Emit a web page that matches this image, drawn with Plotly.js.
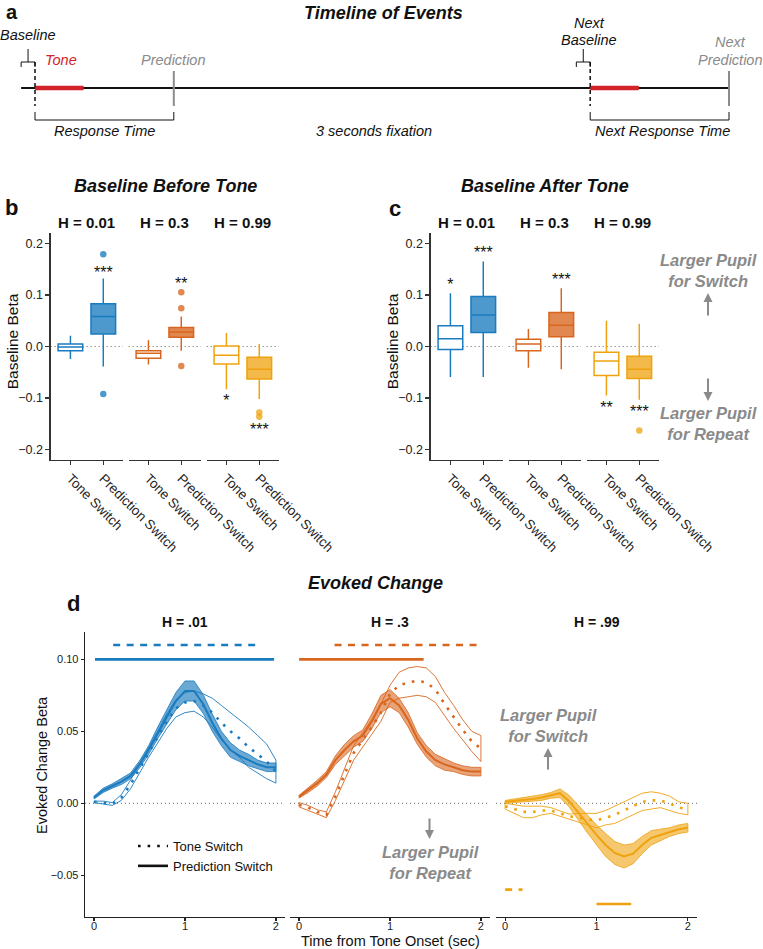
<!DOCTYPE html>
<html><head><meta charset="utf-8">
<script src="https://cdn.plot.ly/plotly-3.0.1.min.js"></script>
<style>html,body{margin:0;padding:0;background:#fff}</style>
</head><body><div id="chart" style="width:763px;height:949px"></div>
<script>
// ================= DATA =================
// Panel a : schematic timeline (seconds-like units)
const baselineWindow = [-0.1, 0];
const toneWindow = [0, 0.35];
const predictionTime = 1;
const nextBaselineWindow = [3.9, 4];
const nextToneWindow = [4, 4.35];
const nextPredictionTime = 5;

// Panels b / c : box plots
const facetLabels = ['H = 0.01', 'H = 0.3', 'H = 0.99'];
const boxCategories = ['Tone Switch', 'Prediction Switch'];
// order: [H.01 Tone, H.01 Pred, H.3 Tone, H.3 Pred, H.99 Tone, H.99 Pred]
const beforeLow  = [-0.024, -0.039, -0.035, -0.008, -0.083, -0.102];
const beforeQ1   = [-0.008,  0.024, -0.023,  0.018, -0.034, -0.063];
const beforeMed  = [-0.001,  0.058, -0.013,  0.028, -0.017, -0.044];
const beforeQ3   = [ 0.005,  0.083, -0.008,  0.037,  0.001, -0.021];
const beforeHigh = [ 0.021,  0.132,  0.012,  0.058,  0.026,  0.005];
const beforeOutliers = [[], [0.179, -0.092], [], [0.105, 0.074, -0.038], [], [-0.128, -0.136]];
const beforeStars = ['', '***', '', '**', '*', '***'];
const beforeStarY = [null, 0.140, null, 0.119, -0.108, -0.164];

const afterLow  = [-0.059, -0.059, -0.041, -0.044, -0.095, -0.103];
const afterQ1   = [-0.006,  0.027, -0.008,  0.019, -0.056, -0.062];
const afterMed  = [ 0.015,  0.061,  0.005,  0.041, -0.028, -0.044];
const afterQ3   = [ 0.040,  0.097,  0.014,  0.066, -0.011, -0.019];
const afterHigh = [ 0.103,  0.165,  0.034,  0.113,  0.050,  0.044];
const afterOutliers = [[], [], [], [], [], [-0.163]];
const afterStars = ['*', '***', '', '***', '**', '***'];
const afterStarY = [0.117, 0.179, null, 0.127, -0.122, -0.128];

// Panel d : evoked change time courses
const facetLabelsD = ['H = .01', 'H = .3', 'H = .99'];
const time = [0,0.1,0.2,0.3,0.4,0.5,0.6,0.7,0.8,0.9,1.0,1.1,1.2,1.3,1.4,1.5,1.6,1.7,1.8,1.9,2.0];
const predMean01 = [0.004,0.009,0.012,0.015,0.019,0.027,0.037,0.049,0.060,0.071,0.078,0.078,0.069,0.056,0.045,0.037,0.033,0.030,0.027,0.025,0.025];
const predSe01   = [0.001,0.0015,0.0015,0.002,0.002,0.0025,0.003,0.004,0.005,0.006,0.007,0.007,0.0065,0.006,0.005,0.005,0.004,0.004,0.003,0.003,0.003];
const toneMean01 = [0.001,0.0005,-0.0005,0.004,0.013,0.024,0.035,0.046,0.057,0.066,0.070,0.071,0.068,0.063,0.056,0.050,0.045,0.039,0.034,0.029,0.022];
const toneSe01   = [0.0005,0.001,0.001,0.002,0.003,0.003,0.003,0.004,0.005,0.006,0.007,0.007,0.008,0.010,0.012,0.013,0.013,0.014,0.013,0.012,0.008];
const predMean03 = [0.0046,0.009,0.014,0.020,0.030,0.037,0.043,0.047,0.057,0.069,0.073,0.068,0.058,0.045,0.036,0.030,0.027,0.025,0.023,0.022,0.022];
const predSe03   = [0.001,0.0015,0.002,0.002,0.003,0.004,0.004,0.004,0.005,0.006,0.006,0.005,0.005,0.004,0.004,0.004,0.004,0.003,0.003,0.003,0.003];
const toneMean03 = [-0.001,-0.003,-0.006,-0.008,0.005,0.020,0.035,0.044,0.053,0.063,0.076,0.082,0.084,0.085,0.084,0.079,0.069,0.060,0.051,0.043,0.038];
const toneSe03   = [0.0015,0.0015,0.0015,0.002,0.003,0.004,0.005,0.005,0.005,0.006,0.006,0.009,0.010,0.010,0.010,0.009,0.008,0.008,0.007,0.007,0.009];
const predMean99 = [0.001,0.0015,0.002,0.003,0.004,0.0055,0.007,0.0015,-0.0065,-0.0145,-0.022,-0.029,-0.0345,-0.037,-0.035,-0.029,-0.024,-0.022,-0.020,-0.018,-0.017];
const predSe99   = [0.001,0.0015,0.0015,0.0015,0.002,0.002,0.003,0.004,0.005,0.006,0.007,0.008,0.008,0.008,0.007,0.006,0.005,0.004,0.003,0.003,0.003];
const toneMean99 = [-0.002,-0.004,-0.006,-0.006,-0.005,-0.005,-0.007,-0.009,-0.010,-0.011,-0.012,-0.010,-0.008,-0.005,-0.002,0.001,0.002,0.002,0.000,-0.003,-0.004];
const toneSe99   = [0.002,0.003,0.004,0.004,0.003,0.002,0.0015,0.0015,0.003,0.004,0.005,0.005,0.006,0.006,0.006,0.006,0.006,0.005,0.005,0.004,0.004];
// significant clusters: [start, end, y-level]
const toneSig = [[0.21, 1.78, 0.11], [0.39, 1.97, 0.11], [0.0, 0.19, -0.06]];
const predSig = [[0.01, 1.98, 0.10], [0.0, 1.37, 0.10], [1.0, 1.38, -0.07]];

// ================= STYLE =================
const W = 763, H = 949;
const X = px => px / W;
const Y = px => 1 - px / H;
const FONT = 'Liberation Sans, Arial, Helvetica, sans-serif';
const lineCol = ['#1b7bbf', '#d9661f', '#efa20d'];
const boxFill = ['rgba(27,123,191,0.78)', 'rgba(217,102,31,0.78)', 'rgba(239,162,13,0.75)'];
const ribbonFill = ['rgba(27,123,191,0.65)', 'rgba(217,102,31,0.6)', 'rgba(239,162,13,0.6)'];
const grey = '#8a8a8a';

const traces = [];
const shapes = [];
const annotations = [];

function ann(text, x, y, size, opts) {
  annotations.push(Object.assign({text: text, x: X(x), y: Y(y), xref: 'paper', yref: 'paper',
    showarrow: false, font: {family: FONT, size: size, color: '#111'}, xanchor: 'center', yanchor: 'middle'}, opts || {}));
}
function arrow(x, yHead, yTail) {
  annotations.push({text: '', x: X(x), y: Y(yHead), xref: 'paper', yref: 'paper', showarrow: true,
    ax: 0, ay: yTail - yHead, arrowhead: 2, arrowsize: 0.9, arrowwidth: 2, arrowcolor: grey});
}

// ---------- panel a ----------
traces.push({type: 'scatter', x: [baselineWindow[0], nextPredictionTime], y: [0, 0], mode: 'markers',
  marker: {opacity: 0}, xaxis: 'x10', yaxis: 'y4', showlegend: false, hoverinfo: 'skip'});
function seg(x0, x1, y0, y1, color, width, dash) {
  shapes.push({type: 'line', xref: 'x10', yref: 'paper', x0: x0, x1: x1, y0: Y(y0), y1: Y(y1),
    line: {color: color, width: width, dash: dash || 'solid'}});
}
const tlY = 88;
seg(baselineWindow[0], nextPredictionTime, tlY, tlY, '#111', 2);
seg(toneWindow[0], toneWindow[1], tlY, tlY, '#d2232a', 4.5);
seg(nextToneWindow[0], nextToneWindow[1], tlY, tlY, '#d2232a', 4.5);
[[baselineWindow, toneWindow[0]], [nextBaselineWindow, nextToneWindow[0]]].forEach(([bw, tone]) => {
  seg(tone, tone, 62, 106, '#111', 1.5, '4px,3px');
  seg(bw[0], bw[1], 62, 62, '#111', 1);
  seg(bw[0], bw[0], 62, 67, '#111', 1);
  seg(bw[1], bw[1], 62, 67, '#111', 1);
  seg((bw[0] + bw[1]) / 2, (bw[0] + bw[1]) / 2, 49, 62, '#111', 1);
});
[[toneWindow[0], predictionTime], [nextToneWindow[0], nextPredictionTime]].forEach(([a, b]) => {
  seg(b, b, 71, 106, '#8c8c8c', 2);
  seg(a, b, 120, 120, '#111', 1);
  seg(a, a, 112, 120, '#111', 1);
  seg(b, b, 112, 120, '#111', 1);
});
ann('<b>a</b>', 4, 12, 20, {xanchor: 'left'});
ann('<b><i>Timeline of Events</i></b>', 383.7, 13, 18);
ann('<i>Baseline</i>', 28, 35, 14.5);
ann('<i>Tone</i>', 61, 60, 14.5, {font: {family: FONT, size: 14.5, color: '#d2232a'}});
ann('<i>Prediction</i>', 173, 60, 14.5, {font: {family: FONT, size: 14.5, color: grey}});
ann('<i>Response Time</i>', 104, 130.5, 14.5);
ann('<i>3 seconds fixation</i>', 374, 130.5, 14.5);
ann('<i>Next</i>', 589, 23, 14.5);
ann('<i>Baseline</i>', 589, 39.5, 14.5);
ann('<i>Next</i>', 730, 42, 14.5, {font: {family: FONT, size: 14.5, color: grey}});
ann('<i>Prediction</i>', 730, 60, 14.5, {font: {family: FONT, size: 14.5, color: grey}});
ann('<i>Next Response Time</i>', 662, 130.5, 14.5);

// ---------- panels b / c ----------
const layoutAxes = {};
const facetPx = [[50.7, 123], [128.7, 201], [206.7, 279]];
function boxPanel(offset, axStart, yName, low, q1, med, q3, high, outl, stars, starY) {
  for (let f = 0; f < 3; f++) {
    const axNum = axStart + f;
    const xa = 'x' + axNum;
    layoutAxes['xaxis' + axNum] = {
      domain: [X(facetPx[f][0] + offset), X(facetPx[f][1] + offset)], anchor: yName,
      range: [0.4, 2.6], tickvals: [1, 2], ticktext: boxCategories, tickangle: 45,
      ticks: 'outside', ticklen: 4, tickwidth: 1.2, tickcolor: '#333', showline: true, linecolor: '#333', linewidth: 1.3,
      showgrid: false, zeroline: false, tickfont: {family: FONT, size: 13.5, color: '#222'}, fixedrange: true
    };
    shapes.push({type: 'line', xref: xa + ' domain', yref: yName, x0: 0, x1: 1, y0: 0, y1: 0,
      line: {color: '#666', width: 1, dash: '1px,3px'}, layer: 'below'});
    for (let c = 0; c < 2; c++) {
      const i = f * 2 + c;
      traces.push({type: 'box', x: [c + 1], q1: [q1[i]], median: [med[i]], q3: [q3[i]],
        lowerfence: [low[i]], upperfence: [high[i]], width: 0.75, whiskerwidth: 0, boxpoints: false,
        line: {color: lineCol[f], width: 1.5}, fillcolor: c === 0 ? '#ffffff' : boxFill[f],
        xaxis: xa, yaxis: yName, showlegend: false, hoverinfo: 'skip'});
      if (outl[i].length) {
        traces.push({type: 'scatter', mode: 'markers', x: outl[i].map(() => c + 1), y: outl[i],
          marker: {size: 6.5, color: boxFill[f]}, xaxis: xa, yaxis: yName, showlegend: false, hoverinfo: 'skip'});
      }
      if (stars[i]) {
        traces.push({type: 'scatter', mode: 'text', x: [c + 1], y: [starY[i]], text: [stars[i]],
          textposition: 'middle center', textfont: {family: FONT, size: 16, color: '#111'},
          xaxis: xa, yaxis: yName, showlegend: false, hoverinfo: 'skip'});
      }
    }
    ann('<b>' + facetLabels[f] + '</b>', (facetPx[f][0] + facetPx[f][1]) / 2 + offset, 222, 15);
  }
  layoutAxes['yaxis' + yName.slice(1)] = {
    domain: [Y(460), Y(233)], anchor: 'x' + axStart, range: [-0.22, 0.22],
    tickvals: [-0.2, -0.1, 0, 0.1, 0.2], ticktext: ['\u22120.2', '\u22120.1', '0.0', '0.1', '0.2'],
    ticks: 'outside', ticklen: 4, tickwidth: 1.2, tickcolor: '#333', showline: true, linecolor: '#333', linewidth: 1.3,
    showgrid: false, zeroline: false, tickfont: {family: FONT, size: 12.5, color: '#222'}, fixedrange: true
  };
  ann('Baseline Beta', 12.3 + offset, 341, 15.5, {textangle: -90});
}
boxPanel(0, 1, 'y', beforeLow, beforeQ1, beforeMed, beforeQ3, beforeHigh, beforeOutliers, beforeStars, beforeStarY);
boxPanel(380, 4, 'y2', afterLow, afterQ1, afterMed, afterQ3, afterHigh, afterOutliers, afterStars, afterStarY);
ann('<b>b</b>', 11, 207, 22);
ann('<b><i>Baseline Before Tone</i></b>', 165.7, 186, 18);
ann('<b>c</b>', 395, 209, 22);
ann('<b><i>Baseline After Tone</i></b>', 545, 186, 18);
ann('<b><i>Larger Pupil<br>for Switch</i></b>', 708, 270, 16.5, {font: {family: FONT, size: 16.5, color: grey}});
ann('<b><i>Larger Pupil<br>for Repeat</i></b>', 708, 423.5, 16.5, {font: {family: FONT, size: 16.5, color: grey}});
arrow(708, 293, 317);
arrow(708, 401, 377);

// ---------- panel d ----------
const dFacetPx = [[85, 285], [290, 490], [496, 697]];
const predMeans = [predMean01, predMean03, predMean99];
const predSes = [predSe01, predSe03, predSe99];
const toneMeans = [toneMean01, toneMean03, toneMean99];
const toneSes = [toneSe01, toneSe03, toneSe99];
for (let f = 0; f < 3; f++) {
  const axNum = 7 + f, xa = 'x' + axNum;
  layoutAxes['xaxis' + axNum] = {
    domain: [X(dFacetPx[f][0]), X(dFacetPx[f][1])], anchor: 'y3', range: [-0.1, 2.1], tickvals: [0, 1, 2],
    ticks: 'outside', ticklen: 3, tickwidth: 1.2, tickcolor: '#222', showline: true, linecolor: '#222', linewidth: 1.3,
    showgrid: false, zeroline: false, tickfont: {family: FONT, size: 11, color: '#222'}, ticklabelstandoff: -5, fixedrange: true
  };
  shapes.push({type: 'line', xref: xa + ' domain', yref: 'y3', x0: 0, x1: 1, y0: 0, y1: 0,
    line: {color: '#666', width: 1, dash: '1px,3px'}, layer: 'below'});
  const ribbon = (m, s) => ({
    x: time.concat(time.slice().reverse(), [time[0]]),
    y: m.map((v, i) => v + s[i]).concat(m.map((v, i) => v - s[i]).reverse(), [m[0] + s[0]])
  });
  const tr = ribbon(toneMeans[f], toneSes[f]);
  traces.push({type: 'scatter', mode: 'lines', x: tr.x, y: tr.y, line: {color: lineCol[f], width: 0.9},
    xaxis: xa, yaxis: 'y3', showlegend: false, hoverinfo: 'skip'});
  traces.push({type: 'scatter', mode: 'lines', x: time, y: toneMeans[f], line: {color: lineCol[f], width: 2.6, dash: '2.6px,7px'},
    xaxis: xa, yaxis: 'y3', showlegend: false, hoverinfo: 'skip'});
  const pr = ribbon(predMeans[f], predSes[f]);
  traces.push({type: 'scatter', mode: 'lines', x: pr.x, y: pr.y, fill: 'toself', fillcolor: ribbonFill[f],
    line: {color: lineCol[f], width: 0.8}, xaxis: xa, yaxis: 'y3', showlegend: false, hoverinfo: 'skip'});
  traces.push({type: 'scatter', mode: 'lines', x: time, y: predMeans[f], line: {color: lineCol[f], width: 2},
    xaxis: xa, yaxis: 'y3', showlegend: false, hoverinfo: 'skip'});
  traces.push({type: 'scatter', mode: 'lines', x: [toneSig[f][0], toneSig[f][1]], y: [toneSig[f][2], toneSig[f][2]],
    line: {color: lineCol[f], width: 2.6, dash: '7px,6.5px'}, xaxis: xa, yaxis: 'y3', showlegend: false, hoverinfo: 'skip'});
  traces.push({type: 'scatter', mode: 'lines', x: [predSig[f][0], predSig[f][1]], y: [predSig[f][2], predSig[f][2]],
    line: {color: lineCol[f], width: 2.6}, xaxis: xa, yaxis: 'y3', showlegend: false, hoverinfo: 'skip'});
  ann('<b>' + facetLabelsD[f] + '</b>', (dFacetPx[f][0] + dFacetPx[f][1]) / 2, 622, 14);
}
layoutAxes.yaxis3 = {
  domain: [Y(917), Y(632)], anchor: 'x7', range: [-0.079, 0.119],
  tickvals: [-0.05, 0, 0.05, 0.1], ticktext: ['\u22120.05', '0.00', '0.05', '0.10'],
  ticks: 'outside', ticklen: 3, tickwidth: 1.2, tickcolor: '#222', showline: true, linecolor: '#222', linewidth: 1.3,
  showgrid: false, zeroline: false, tickfont: {family: FONT, size: 11, color: '#222'}, fixedrange: true
};
// legend entries
traces.push({type: 'scatter', mode: 'lines', x: [null], y: [null], name: 'Tone Switch',
  line: {color: '#111', width: 2.6, dash: '2.6px,7px'}, xaxis: 'x7', yaxis: 'y3', showlegend: true});
traces.push({type: 'scatter', mode: 'lines', x: [null], y: [null], name: 'Prediction Switch',
  line: {color: '#111', width: 2.6}, xaxis: 'x7', yaxis: 'y3', showlegend: true});

ann('<b>d</b>', 73, 603, 22);
ann('<b><i>Evoked Change</i></b>', 375.5, 583, 18);
ann('Evoked Change Beta', 42, 765, 14.5, {textangle: -90});
ann('Time from Tone Onset (sec)', 390, 941, 14.5);
ann('<b><i>Larger Pupil<br>for Repeat</i></b>', 431, 862.5, 16.5, {font: {family: FONT, size: 16.5, color: grey}});
ann('<b><i>Larger Pupil<br>for Switch</i></b>', 548, 725.5, 16.5, {font: {family: FONT, size: 16.5, color: grey}});
arrow(429.5, 839, 817);
arrow(548, 748, 771);

const layout = Object.assign({
  width: W, height: H, margin: {l: 0, r: 0, t: 0, b: 0},
  paper_bgcolor: '#fff', plot_bgcolor: 'rgba(0,0,0,0)',
  font: {family: FONT, color: '#111'},
  showlegend: true,
  legend: {x: X(133), y: Y(831), xanchor: 'left', yanchor: 'top', bgcolor: 'rgba(0,0,0,0)',
    font: {family: FONT, size: 13, color: '#111'}, tracegroupgap: 0},
  xaxis10: {domain: [0, 1], range: [-35 / 138.8, (W - 35) / 138.8], anchor: 'y4', visible: false, fixedrange: true},
  yaxis4: {domain: [Y(150), Y(0)], range: [0, 1], anchor: 'x10', visible: false, fixedrange: true},
  shapes: shapes, annotations: annotations
}, layoutAxes);

Plotly.newPlot('chart', traces, layout, {staticPlot: true, displayModeBar: false});
</script></body></html>
